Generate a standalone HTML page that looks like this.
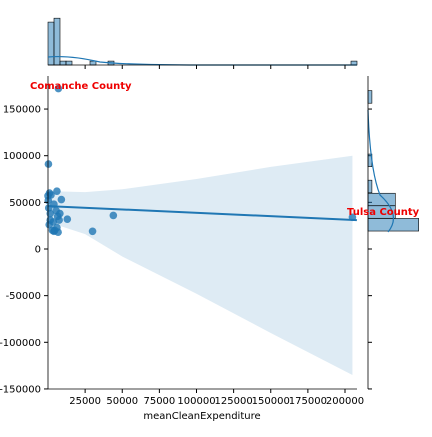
<!DOCTYPE html>
<html><head><meta charset="utf-8"><style>
body{margin:0;background:#fff}
svg{font-family:"DejaVu Sans","Liberation Sans",sans-serif}
</style></head><body>
<svg id="c" width="432" height="432" viewBox="0 0 432 432"></svg>
<script>
const xs=[0,1000,2000,6000,9000,4000,500,5500,8000,6500,7500,3500,1500,800,3000,4500,6000,4000,13000,30000,44000,6800,200,1500,7000,300,205000];
const ys=[57000,60000,58000,62000,53000,48000,44000,41000,38000,35000,31000,29000,31000,26000,20000,20000,23000,19000,32000,19000,36000,18000,52000,38000,172000,91000,34000];
const bandX=[0,25000,50000,100000,150000,205000];
const bandUp=[62000,61000,64000,75000,88000,100000];
const bandLo=[29000,16000,-8000,-48000,-90000,-135000];
const regB=[46000,31000];
const xTicks=[25000,50000,75000,100000,125000,150000,175000,200000];
const yTicks=[150000,100000,50000,0,-50000,-100000,-150000];
const topCounts=[11,12,1,1,0,0,0,1,0,0,1];
const topLastCount=1;
const rightBins=[[163000,1],[95000,1],[67000,1],[53000,7],[39700,7],[26000,13]];
const X=v=>48+v*0.001485, Y=v=>249-v*0.000933;
const s=document.getElementById('c'),NS='http://www.w3.org/2000/svg';
function mk(t,a,p){const e=document.createElementNS(NS,t);for(const k in a)e.setAttribute(k,a[k]);(p||s).appendChild(e);return e;}
let pts=bandX.map((x,i)=>X(x)+','+Y(bandUp[i])).concat(bandX.slice().reverse().map((x,i)=>X(x)+','+Y(bandLo[bandX.length-1-i])));
let b=mk('polygon',{points:pts.join(' '),fill:'#1f77b4','fill-opacity':0.15});


xs.forEach((x,i)=>{const c=mk('circle',{cx:X(x),cy:Y(ys[i]),r:3.8,fill:'#1f77b4','fill-opacity':0.8});

});
let l=mk('line',{x1:X(0),y1:Y(regB[0]),x2:X(208000),y2:Y(regB[1]),stroke:'#1f77b4','stroke-width':2});


mk('line',{x1:48,y1:76,x2:48,y2:389,stroke:'#000','stroke-width':0.8});
mk('line',{x1:48,y1:389,x2:357,y2:389,stroke:'#000','stroke-width':0.8});
xTicks.forEach(t=>{mk('line',{x1:X(t),y1:389,x2:X(t),y2:393,stroke:'#000'});
const e=mk('text',{x:X(t),y:404,'font-size':10,'text-anchor':'middle'});e.textContent=t;

});
yTicks.forEach(t=>{mk('line',{x1:44,y1:Y(t),x2:48,y2:Y(t),stroke:'#000'});
const e=mk('text',{x:41,y:Y(t)+3.5,'font-size':10,'text-anchor':'end'});e.textContent=t;


mk('line',{x1:368,y1:Y(t),x2:372,y2:Y(t),stroke:'#000'});});
const xl=mk('text',{x:202,y:419,'font-size':10,'text-anchor':'middle'});xl.textContent='meanCleanExpenditure';


const a1=mk('text',{x:30,y:89,'font-size':10,'font-weight':'bold',fill:'#e00'});a1.textContent='Comanche County';


const bw=6,hs=3.9;
topCounts.forEach((c,i)=>{if(!c)return;const r=mk('rect',{x:48+i*bw,y:65-c*hs,width:bw,height:c*hs,fill:'#1f77b4','fill-opacity':0.5,stroke:'#000','stroke-width':0.6});

});
const r2=mk('rect',{x:351,y:65-topLastCount*hs,width:bw,height:topLastCount*hs,fill:'#1f77b4','fill-opacity':0.5,stroke:'#000','stroke-width':0.6});


mk('path',{d:'M48,57 Q70,55 100,62 Q130,65 200,65 L357,65',fill:'none',stroke:'#1f77b4','stroke-width':1.2});
mk('line',{x1:48,y1:65,x2:357,y2:65,stroke:'#000','stroke-width':0.8});
xTicks.forEach(t=>mk('line',{x1:X(t),y1:65,x2:X(t),y2:69,stroke:'#000'}));
const bh=12.6,ws=3.9;
rightBins.forEach(([v,c])=>{const r=mk('rect',{x:368,y:Y(v)-bh/2,width:c*ws,height:bh,fill:'#1f77b4','fill-opacity':0.5,stroke:'#000','stroke-width':0.6});

});
mk('path',{d:'M368,110 Q370,170 380,195 Q402,215 388,232',fill:'none',stroke:'#1f77b4','stroke-width':1.2});
mk('line',{x1:368,y1:76,x2:368,y2:389,stroke:'#000','stroke-width':0.8});
const a2=mk('text',{x:347,y:215,'font-size':10,'font-weight':'bold',fill:'#e00'});a2.textContent='Tulsa County';


</script>
</body></html>
